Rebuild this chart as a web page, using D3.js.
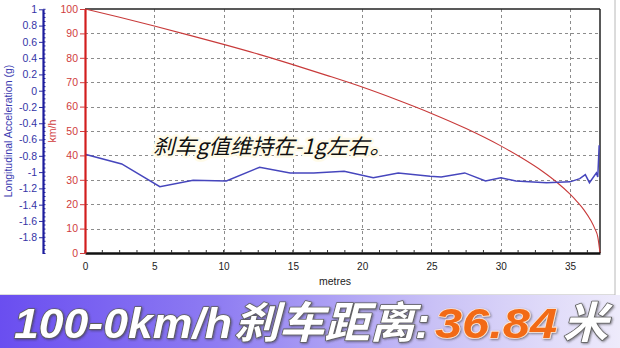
<!DOCTYPE html>
<html>
<head>
<meta charset="utf-8">
<script src="https://cdn.jsdelivr.net/npm/d3@7"></script>
<style>
  body { margin: 0; background: #fff; }
  svg { display: block; }
  text { font-family: "Liberation Sans", Arial, sans-serif; }
</style>
</head>
<body>
<div id="chart"></div>
<script>
// Data
const speedDist = [0, 2.5, 5, 7.5, 10, 12.5, 15, 17.5, 20, 22.5, 25, 27.5, 30, 31.5, 33, 34, 35, 35.5, 36, 36.5, 36.8, 37, 37.16];
const speedKmh = [100, 96.6, 93, 89.3, 85.5, 81.5, 77.2, 72.7, 68, 62.8, 57.2, 51, 43.9, 39, 33.5, 29.2, 24.1, 21.1, 17.7, 13.3, 9.8, 6.6, 0];

const accelDist = [0, 2.65, 5.4, 7.8, 10.2, 12.6, 14.8, 16.5, 18.7, 20.8, 22.6, 24.9, 25.7, 27.4, 28.9, 30, 31.1, 33.3, 35, 35.7, 36.1, 36.4, 36.9, 37, 37.1];
const accelG = [-0.78, -0.9, -1.18, -1.1, -1.11, -0.94, -1.01, -1.01, -0.99, -1.07, -1.01, -1.05, -1.06, -1.01, -1.11, -1.07, -1.11, -1.13, -1.12, -1.08, -1.03, -1.13, -1.01, -1.06, -0.67];

const distTicks = [0, 5, 10, 15, 20, 25, 30, 35];
const speedTicks = [0, 10, 20, 30, 40, 50, 60, 70, 80, 90, 100];
const accelTicks = [1, 0.8, 0.6, 0.4, 0.2, 0, -0.2, -0.4, -0.6, -0.8, -1, -1.2, -1.4, -1.6, -1.8];

const caption = "刹车g值维持在-1g左右。";
const bannerParts = ["100-0km/h", "刹车距离:", "36.84", "米"];

(function draw() {
  // Dimensions
  const dimensions = {
    width: 620,
    height: 348,
    left: 85,
    right: 600,
    top: 9,
    bottom: 253,
  };

  const svg = d3
    .select("#chart")
    .append("svg")
    .attr("width", dimensions.width)
    .attr("height", dimensions.height);

  const defs = svg.append("defs");
  const grad = defs.append("linearGradient").attr("id", "banner").attr("x1", 0).attr("x2", 1).attr("y1", 0).attr("y2", 0);
  grad.append("stop").attr("offset", "0%").attr("stop-color", "#6a4ef0");
  grad.append("stop").attr("offset", "35%").attr("stop-color", "#8e7cf2");
  grad.append("stop").attr("offset", "70%").attr("stop-color", "#c9c1f6");
  grad.append("stop").attr("offset", "100%").attr("stop-color", "#eeebfb");

  const shadow = defs.append("filter").attr("id", "shadow").attr("x", "-5%").attr("y", "-10%").attr("width", "110%").attr("height", "120%");
  shadow.append("feDropShadow").attr("dx", 1).attr("dy", 1).attr("stdDeviation", 0.8).attr("flood-color", "#333").attr("flood-opacity", 0.6);

  // chart frame
  svg.append("rect").attr("x", -1).attr("y", -1).attr("width", 616).attr("height", 296)
    .attr("fill", "#fff").attr("stroke", "#b8b8b8");

  // Scales
  const xScale = d3.scaleLinear().domain([0, 37.16]).range([dimensions.left, dimensions.right]);
  const ySpeed = d3.scaleLinear().domain([0, 100]).range([dimensions.bottom, dimensions.top]);
  const yAccel = d3.scaleLinear().domain([-2, 1]).range([dimensions.bottom + 0.5, dimensions.top + 0.3]);

  // Grid
  const grid = svg.append("g").attr("stroke", "#8c8c8c").attr("stroke-dasharray", "3,3").attr("stroke-width", 1);
  grid.selectAll("line.h")
    .data(speedTicks.filter((d) => d > 0 && d < 100))
    .join("line")
    .attr("x1", dimensions.left).attr("x2", dimensions.right)
    .attr("y1", (d) => Math.round(ySpeed(d)) + 0.5).attr("y2", (d) => Math.round(ySpeed(d)) + 0.5);
  grid.selectAll("line.v")
    .data(distTicks.filter((d) => d > 0))
    .join("line")
    .attr("x1", (d) => Math.round(xScale(d)) + 0.5).attr("x2", (d) => Math.round(xScale(d)) + 0.5)
    .attr("y1", dimensions.top).attr("y2", dimensions.bottom);

  // plot border top / right
  svg.append("line").attr("x1", dimensions.left).attr("x2", dimensions.right).attr("y1", dimensions.top).attr("y2", dimensions.top)
    .attr("stroke", "#222").attr("stroke-width", 1.5);
  svg.append("line").attr("x1", dimensions.right).attr("x2", dimensions.right).attr("y1", dimensions.top).attr("y2", dimensions.bottom)
    .attr("stroke", "#222").attr("stroke-width", 1.5);

  // Lines
  const speedLine = d3.line().x((d, i) => xScale(speedDist[i])).y((d) => ySpeed(d)).curve(d3.curveMonotoneX);
  svg.append("path").datum(speedKmh).attr("d", speedLine)
    .attr("fill", "none").attr("stroke", "#c83a3a").attr("stroke-width", 1.1);

  const accelLine = d3.line().x((d, i) => xScale(accelDist[i])).y((d) => yAccel(d));
  svg.append("path").datum(accelG).attr("d", accelLine)
    .attr("fill", "none").attr("stroke", "#4646bd").attr("stroke-width", 1.5);

  // Axes
  const xAxis = d3.axisBottom(xScale).tickValues(distTicks).tickSize(0).tickSizeOuter(0).tickPadding(10);
  const gx = svg.append("g").attr("transform", `translate(0, ${dimensions.bottom})`).call(xAxis);
  gx.select(".domain").attr("stroke", "#111").attr("stroke-width", 2.5);
  gx.selectAll("text").attr("fill", "#222").style("font-size", "10px");
  gx.selectAll("line.minor")
    .data(d3.range(0, 37.2, 1.25))
    .join("line")
    .attr("x1", (d) => xScale(d)).attr("x2", (d) => xScale(d))
    .attr("y1", -3).attr("y2", 0)
    .attr("stroke", "#333");

  svg.append("text").attr("x", 335).attr("y", 285).attr("text-anchor", "middle")
    .attr("fill", "#222").style("font-size", "10.5px").text("metres");

  const speedAxis = d3.axisLeft(ySpeed).tickValues(speedTicks).tickSize(5).tickSizeOuter(0).tickPadding(2);
  const gs = svg.append("g").attr("transform", `translate(${dimensions.left}, 0)`).call(speedAxis);
  gs.select(".domain").attr("stroke", "#d21e1e").attr("stroke-width", 2.2);
  gs.selectAll(".tick line").attr("stroke", "#d23c3c");
  gs.selectAll("text").attr("fill", "#cf3c3c").style("font-size", "10.5px");

  svg.append("text")
    .attr("transform", `translate(56, 131) rotate(-90)`)
    .attr("text-anchor", "middle").attr("fill", "#cf3c3c").style("font-size", "10.5px")
    .text("km/h");

  const accelAxis = d3.axisLeft(yAccel).tickValues(accelTicks).tickSize(4).tickSizeOuter(0).tickPadding(2)
    .tickFormat((d) => String(+d.toFixed(1)));
  const ga = svg.append("g").attr("transform", "translate(43, 0)").call(accelAxis);
  ga.select(".domain").attr("stroke", "#1e1e9e").attr("stroke-width", 2.2);
  ga.selectAll(".tick line").attr("stroke", "#2a2aa0");
  ga.selectAll("text").attr("fill", "#3434a6").style("font-size", "10.5px");
  ga.selectAll("line.minor")
    .data(d3.range(-2, 1.001, 0.05))
    .join("line")
    .attr("x1", 0).attr("x2", 2.5)
    .attr("y1", (d) => yAccel(d)).attr("y2", (d) => yAccel(d))
    .attr("stroke", "#1e1e9e");

  svg.append("text")
    .attr("transform", `translate(12, 131) rotate(-90)`)
    .attr("text-anchor", "middle").attr("fill", "#3a3ab0").style("font-size", "10.5px")
    .text("Longitudinal Acceleration (g)");

  // Caption
  svg.append("text")
    .attr("x", 153).attr("y", 154)
    .attr("textLength", 238).attr("lengthAdjust", "spacingAndGlyphs")
    .style("font-family", "'Noto Sans CJK SC', sans-serif")
    .style("font-size", "21px").style("font-style", "italic")
    .attr("fill", "#111").attr("stroke", "#fffbe8").attr("stroke-width", 5)
    .attr("paint-order", "stroke").attr("stroke-linejoin", "round")
    .text(caption);

  // Banner
  svg.append("rect").attr("x", 0).attr("y", 295).attr("width", 620).attr("height", 53).attr("fill", "url(#banner)");

  const bannerPos = [
    { x: 14, len: 218, fill: "#fff", stroke: "#5e5e5e" },
    { x: 234, len: 196, fill: "#fff", stroke: "#5e5e5e" },
    { x: 435, len: 122, fill: "#f26a12", stroke: "#fde6d6" },
    { x: 563, len: 45, fill: "#fff", stroke: "#5e5e5e" },
  ];
  svg.append("g").attr("filter", "url(#shadow)").selectAll("text")
    .data(bannerParts)
    .join("text")
    .attr("x", (d, i) => bannerPos[i].x).attr("y", 338)
    .attr("textLength", (d, i) => bannerPos[i].len).attr("lengthAdjust", "spacingAndGlyphs")
    .style("font-family", "'Liberation Sans', 'Noto Sans CJK SC', sans-serif")
    .style("font-size", "43px").style("font-weight", "bold").style("font-style", "italic")
    .attr("fill", (d, i) => bannerPos[i].fill)
    .attr("stroke", (d, i) => bannerPos[i].stroke).attr("stroke-width", 1.6)
    .attr("paint-order", "stroke").attr("stroke-linejoin", "round")
    .text((d) => d);
})();
</script>
</body>
</html>
